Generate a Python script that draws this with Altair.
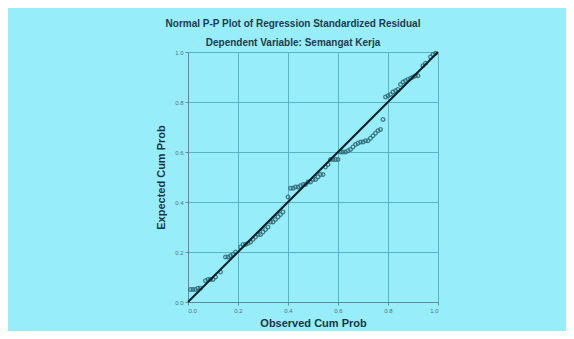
import altair as alt
import pandas as pd

observed = [0.01, 0.02, 0.03, 0.04, 0.05,
            0.07, 0.08, 0.09, 0.10, 0.11, 0.13,
            0.15, 0.16, 0.17, 0.18, 0.19,
            0.21, 0.22, 0.23, 0.24, 0.25, 0.26,
            0.27, 0.28, 0.29, 0.30, 0.31, 0.32,
            0.33, 0.34, 0.35, 0.36, 0.37, 0.38,
            0.40, 0.41, 0.42, 0.43, 0.44, 0.45, 0.46,
            0.47, 0.48, 0.49, 0.50, 0.51,
            0.52, 0.53, 0.54, 0.55, 0.56,
            0.57, 0.58, 0.59, 0.60,
            0.61, 0.62, 0.63, 0.64, 0.65,
            0.66, 0.67, 0.68, 0.69, 0.70, 0.71, 0.72,
            0.73, 0.74, 0.75, 0.76, 0.77, 0.78,
            0.79, 0.80, 0.81, 0.82, 0.83, 0.84,
            0.85, 0.86, 0.87, 0.88, 0.89, 0.90, 0.91, 0.92,
            0.94, 0.95, 0.97, 0.98, 0.99]
expected = [0.05, 0.05, 0.05, 0.055, 0.055,
            0.085, 0.09, 0.09, 0.09, 0.10, 0.12,
            0.18, 0.18, 0.185, 0.19, 0.20,
            0.22, 0.23, 0.23, 0.235, 0.24, 0.25,
            0.26, 0.27, 0.27, 0.28, 0.29, 0.30,
            0.32, 0.32, 0.33, 0.34, 0.35, 0.36,
            0.42, 0.455, 0.455, 0.46, 0.46, 0.465, 0.47,
            0.47, 0.48, 0.48, 0.49, 0.49,
            0.50, 0.51, 0.51, 0.54, 0.55,
            0.57, 0.57, 0.57, 0.57,
            0.60, 0.60, 0.60, 0.605, 0.61,
            0.62, 0.63, 0.635, 0.64, 0.64, 0.645, 0.645,
            0.655, 0.665, 0.675, 0.685, 0.69, 0.73,
            0.82, 0.825, 0.83, 0.84, 0.845, 0.85,
            0.87, 0.88, 0.885, 0.89, 0.895, 0.90, 0.905, 0.905,
            0.945, 0.955, 0.98, 0.99, 0.995]

line_x = [0.0, 1.0]
line_y = [0.0, 1.0]
tick_values = [0.0, 0.2, 0.4, 0.6, 0.8, 1.0]

pts = pd.DataFrame({"obs": observed, "exp": expected})
ref = pd.DataFrame({"obs": line_x, "exp": line_y})

xscale = alt.Scale(domain=[0, 1], nice=False, zero=False)
yscale = alt.Scale(domain=[0, 1], nice=False, zero=False)

xaxis = alt.Axis(title="Observed Cum Prob", values=tick_values, format=".1f",
                 titlePadding=4)
yaxis = alt.Axis(title="Expected Cum Prob", values=tick_values, format=".1f",
                 titlePadding=8)

points = alt.Chart(pts).mark_point(
    shape="circle", filled=False, size=13, strokeWidth=1.3, color="#2f6a78", opacity=0.85
).encode(
    x=alt.X("obs:Q", scale=xscale, axis=xaxis),
    y=alt.Y("exp:Q", scale=yscale, axis=yaxis),
)

diag = alt.Chart(ref).mark_line(color="#0e1e24", strokeWidth=2).encode(
    x=alt.X("obs:Q", scale=xscale),
    y=alt.Y("exp:Q", scale=yscale),
)

chart = alt.layer(points, diag).properties(
    width=250,
    height=250,
    autosize=alt.AutoSizeParams(type="none"),
    padding={"left": 180, "top": 44, "right": 128, "bottom": 29},
    background="#97eefa",
    title=alt.TitleParams(
        text="Normal P-P Plot of Regression Standardized Residual",
        subtitle="Dependent Variable: Semangat Kerja",
        anchor="middle",
        dx=-20,
        offset=0,
        font="Liberation Sans",
        fontSize=10,
        fontWeight="bold",
        color="#1f3a4a",
        subtitleFont="Liberation Sans",
        subtitleFontSize=10,
        subtitleFontWeight="bold",
        subtitleColor="#1f3a4a",
        subtitlePadding=9,
    ),
).configure_view(
    stroke=None,
).configure_axis(
    labelFont="Liberation Sans",
    labelFontSize=6,
    labelColor="#4f6f7a",
    titleFont="Liberation Sans",
    titleFontSize=11,
    titleFontWeight="bold",
    titleColor="#1c3444",
    gridColor="#5ab4c4",
    gridOpacity=1,
    gridWidth=1,
    domainColor="#5a8e9a",
    tickColor="#5a8e9a",
    tickSize=3,
    labelPadding=2,
)

chart.save("out.html", embed_options={"renderer": "svg", "actions": False})
